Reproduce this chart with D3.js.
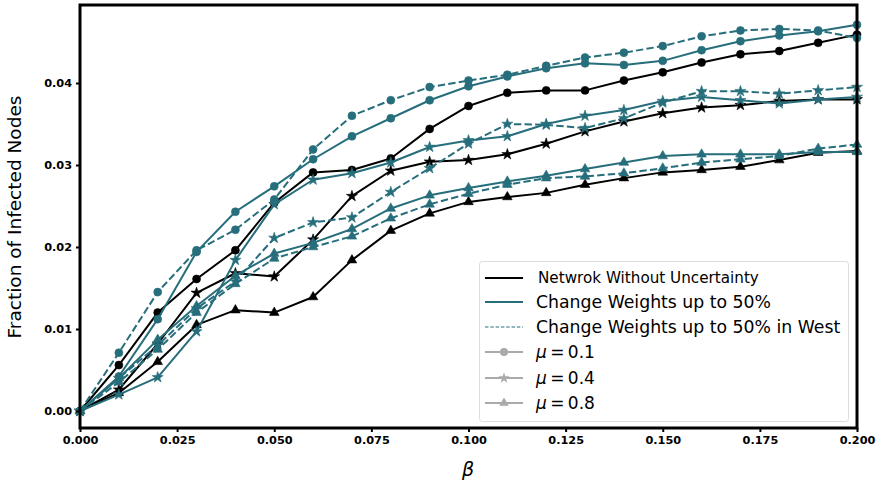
<!DOCTYPE html>
<html><head><meta charset="utf-8">
<script src="https://cdn.jsdelivr.net/npm/d3@7"></script>
<style>body{margin:0;background:#fff}svg{display:block}</style>
</head><body>
<svg id="chart" width="880" height="485"></svg>
<script>
const betas = [0,0.01,0.02,0.03,0.04,0.05,0.06,0.07,0.08,0.09,0.10,0.11,0.12,0.13,0.14,0.15,0.16,0.17,0.18,0.19,0.20];

// Network without uncertainty
const baseMu01 = [0,0.0056,0.0120,0.0161,0.0196,0.0254,0.0291,0.0294,0.0308,0.0344,0.0372,0.0388,0.0391,0.0391,0.0403,0.0413,0.0425,0.0435,0.0439,0.0449,0.0459];
const baseMu04 = [0,0.0026,0.0082,0.0144,0.0168,0.0164,0.0209,0.0262,0.0293,0.0304,0.0306,0.0313,0.0326,0.0341,0.0353,0.0363,0.0370,0.0373,0.0378,0.0380,0.0380];
const baseMu08 = [0,0.0022,0.0060,0.0105,0.0123,0.0120,0.0139,0.0184,0.0220,0.0241,0.0255,0.0261,0.0266,0.0276,0.0284,0.0291,0.0294,0.0298,0.0306,0.0315,0.0317];
// Change weights up to 50%
const chgMu01 = [0,0.0042,0.0112,0.0194,0.0243,0.0274,0.0307,0.0335,0.0357,0.0379,0.0396,0.0408,0.0418,0.0424,0.0422,0.0427,0.0440,0.0451,0.0458,0.0463,0.0471];
const chgMu04 = [0,0.0020,0.0041,0.0097,0.0184,0.0252,0.0282,0.0290,0.0303,0.0322,0.0330,0.0335,0.0350,0.0360,0.0367,0.0378,0.0383,0.0379,0.0375,0.0380,0.0383];
const chgMu08 = [0,0.0040,0.0087,0.0128,0.0165,0.0192,0.0205,0.0222,0.0247,0.0263,0.0272,0.0280,0.0287,0.0295,0.0303,0.0311,0.0313,0.0313,0.0313,0.0316,0.0316];
// Change weights up to 50% in West
const westMu01 = [0,0.0071,0.0145,0.0196,0.0221,0.0258,0.0319,0.0360,0.0379,0.0395,0.0403,0.0410,0.0421,0.0431,0.0437,0.0445,0.0457,0.0464,0.0466,0.0464,0.0455];
const westMu04 = [0,0.0040,0.0080,0.0125,0.0158,0.0211,0.0230,0.0236,0.0267,0.0296,0.0326,0.0350,0.0349,0.0345,0.0357,0.0376,0.0390,0.0390,0.0387,0.0391,0.0395];
const westMu08 = [0,0.0035,0.0075,0.0120,0.0155,0.0186,0.0200,0.0213,0.0235,0.0252,0.0265,0.0276,0.0284,0.0286,0.0290,0.0296,0.0303,0.0307,0.0311,0.0320,0.0325];

const xTicks = [0,0.025,0.05,0.075,0.1,0.125,0.15,0.175,0.2];
const yTicks = [0,0.01,0.02,0.03,0.04];
const legendLabels = ["Netwrok Without Uncertainty","Change Weights up to 50%","Change Weights up to 50% in West"];
const muLabels = ["0.1","0.4","0.8"];

const BLACK = "#000000", TEAL = "#266e7b";
const series = [
  {v: baseMu01, c: BLACK, d: false, m: "circle"},
  {v: baseMu04, c: BLACK, d: false, m: "star"},
  {v: baseMu08, c: BLACK, d: false, m: "triangle"},
  {v: chgMu01, c: TEAL, d: false, m: "circle"},
  {v: chgMu04, c: TEAL, d: false, m: "star"},
  {v: chgMu08, c: TEAL, d: false, m: "triangle"},
  {v: westMu01, c: TEAL, d: true, m: "circle"},
  {v: westMu04, c: TEAL, d: true, m: "star"},
  {v: westMu08, c: TEAL, d: true, m: "triangle"}
];

const svg = d3.select("#chart");
const L = 80, R = 857, T = 5, B = 428;
const x = d3.scaleLinear().domain([0, 0.2]).range([L, R]);
const y = d3.scaleLinear().domain([-0.002073, 0.049512]).range([B, T]);

const symType = {circle: d3.symbolCircle, star: d3.symbolStar, triangle: d3.symbolTriangle};
const symSize = {circle: 50, star: 38, triangle: 40};

const line = d3.line().x((d,i)=>x(betas[i])).y(d=>y(d));
const g = svg.append("g");
series.forEach(s => {
  g.append("path").datum(s.v).attr("d", line)
    .attr("fill","none").attr("stroke", s.c).attr("stroke-width", 2)
    .attr("stroke-dasharray", s.d ? "7.4,3.2" : null)
    .attr("stroke-linejoin","round");
  g.selectAll(null).data(s.v).enter().append("path")
    .attr("d", d3.symbol().type(symType[s.m]).size(symSize[s.m]))
    .attr("transform", (d,i)=>`translate(${x(betas[i])},${y(d)})`)
    .attr("fill", s.c).attr("stroke", s.c).attr("stroke-width", 0.6);
});

// Axes
const xAxis = d3.axisBottom(x).tickValues(xTicks).tickFormat(d3.format(".3f")).tickSize(4).tickPadding(4);
const yAxis = d3.axisLeft(y).tickValues(yTicks).tickFormat(d3.format(".2f")).tickSize(4).tickPadding(4);
const gx = svg.append("g").attr("transform",`translate(0,${B})`).call(xAxis);
const gy = svg.append("g").attr("transform",`translate(${L},0)`).call(yAxis);
[gx, gy].forEach(a => {
  a.select(".domain").remove();
  a.selectAll(".tick line").attr("stroke","#000").attr("stroke-width",2);
  a.selectAll(".tick text").attr("font-family","DejaVu Sans").attr("font-weight","bold")
    .attr("font-size", 11.3).attr("fill","#000");
});

// Frame
svg.append("rect").attr("x",L).attr("y",T).attr("width",R-L).attr("height",B-T)
  .attr("fill","none").attr("stroke","#000").attr("stroke-width",3);

// Axis labels
svg.append("text").attr("x", 468).attr("y", 476).attr("text-anchor","middle")
  .attr("font-family","DejaVu Sans").attr("font-style","italic").attr("font-size",19).text("β");
svg.append("text").attr("transform","translate(21,217) rotate(-90)").attr("text-anchor","middle")
  .attr("font-family","DejaVu Sans").attr("font-size",18.5).text("Fraction of Infected Nodes");

// Legend
const lg = svg.append("g");
lg.append("rect").attr("x",479.5).attr("y",261.5).attr("width",369).attr("height",160).attr("rx",3)
  .attr("fill","#fff").attr("fill-opacity",0.85).attr("stroke","#dcdcdc").attr("stroke-width",1);
const ys = [278, 302, 327, 352, 378, 403];
const hx0 = 485, hx1 = 523, tx = 536;
const styles = [{c:BLACK,d:false},{c:TEAL,d:false},{c:TEAL,d:true}];
legendLabels.forEach((lab,i) => {
  lg.append("line").attr("x1",hx0).attr("x2",hx1).attr("y1",ys[i]).attr("y2",ys[i])
    .attr("stroke",styles[i].c).attr("stroke-width", styles[i].d ? 1.2 : 2)
    .attr("stroke-dasharray", styles[i].d ? "3.5,1.8" : null);
  lg.append("text").attr("x", i===0 ? tx+2 : tx).attr("y",ys[i]).attr("dy","0.35em")
    .attr("font-family","DejaVu Sans").attr("font-size", i===0 ? 15.2 : 17.3).text(lab);
});
const muSyms = ["circle","star","triangle"];
muLabels.forEach((lab,i) => {
  const yy = ys[3+i];
  lg.append("line").attr("x1",hx0).attr("x2",hx1).attr("y1",yy).attr("y2",yy)
    .attr("stroke","#aaaaaa").attr("stroke-width",2);
  lg.append("path").attr("d", d3.symbol().type(symType[muSyms[i]]).size(symSize[muSyms[i]]))
    .attr("transform",`translate(${(hx0+hx1)/2},${yy})`).attr("fill","#aaaaaa");
  const t = lg.append("text").attr("x",tx).attr("y",yy).attr("dy","0.35em")
    .attr("font-family","DejaVu Sans").attr("font-size",17);
  t.append("tspan").attr("font-style","italic").text("μ");
  t.append("tspan").text("\u2009=\u2009" + lab);
});
</script>
</body></html>
